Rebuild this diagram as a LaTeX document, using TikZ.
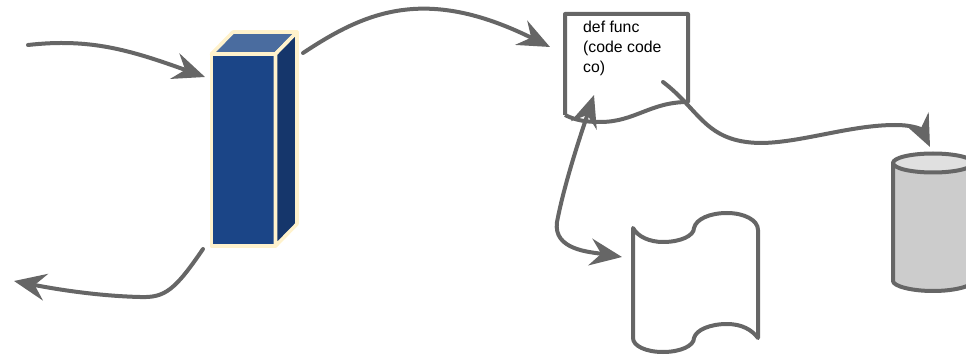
\documentclass[tikz,border=0pt]{standalone}
\usepackage{fontspec}
\setmainfont{Liberation Sans}
\usetikzlibrary{arrows.meta}
\definecolor{linegray}{HTML}{666666}
\definecolor{boxblue}{HTML}{1B4587}
\definecolor{boxtop}{HTML}{4A6C9F}
\definecolor{boxside}{HTML}{15366B}
\definecolor{boxedge}{HTML}{FFF2CC}
\definecolor{drumgray}{HTML}{CCCCCC}
\definecolor{drumtop}{HTML}{E0E0E0}
\tikzset{
  flow/.style={draw=linegray,line width=4pt,line cap=round},
  headflow/.style={flow,-{Stealth[length=32pt,width=27pt,inset=11pt]}},
  bothflow/.style={flow,{Stealth[length=32pt,width=27pt,inset=11pt]}-{Stealth[length=32pt,width=27pt,inset=11pt]}},
  outline/.style={draw=linegray,line width=4pt,line join=round},
  face/.style={draw=boxedge,line width=3.6pt,line join=round},
}
\begin{document}
\begin{tikzpicture}[x=1pt,y=-1pt]
\useasboundingbox (0,0) rectangle (966,355);
% tower
\draw[face,fill=boxblue] (211.5,54) rectangle (275.5,246);
\draw[face,fill=boxtop] (211.5,54) -- (233,32) -- (297,32) -- (275.5,54) -- cycle;
\draw[face,fill=boxside] (275.5,54) -- (297,32) -- (297,224) -- (275.5,246) -- cycle;
% page with code
\draw[outline,fill=white] (565,115) -- (565,14) -- (688,14) -- (688,102)
  .. controls (650,102) and (635,122) .. (600,122)
  .. controls (585,122) and (575,120) .. (565,115);
\node[anchor=north west,inner sep=0pt,align=left,font=\fontsize{15.8}{20}\selectfont] (functext) at (583,21) {def func\\(code code\\co)};
% paper strip
\draw[outline] (633,228) .. controls (638,237) and (650,242) .. (663,242)
  .. controls (680,242) and (694,236) .. (694,228)
  .. controls (696,219) and (710,213) .. (727,213)
  .. controls (744,213) and (758,220) .. (758,230)
  -- (758,338) .. controls (752,330) and (742,324) .. (727,324)
  .. controls (710,324) and (696,330) .. (694,338)
  .. controls (694,346) and (680,352) .. (663,352)
  .. controls (646,352) and (633,346) .. (633,338) -- cycle;
% drum
\begin{scope}
\clip (0,0) rectangle (966,355);
\draw[outline,fill=drumgray] (893,163) -- (893,281)
  .. controls (893,286) and (911,291) .. (933,291)
  .. controls (955,291) and (973,286) .. (973,281) -- (973,163) -- cycle;
\draw[outline,fill=drumtop] (933,163) ellipse [x radius=40,y radius=9.5];
\end{scope}
% connector ends
\coordinate (inleft) at (28,45);
\coordinate (intower) at (205,77);
\coordinate (towerout) at (303,53);
\coordinate (pageleft) at (550,47);
\coordinate (towerbelow) at (203,249);
\coordinate (outleft) at (14,281);
\coordinate (pageinner) at (594,95);
\coordinate (stripleft) at (622,257);
\coordinate (pagefoot) at (663,82);
\coordinate (drumtip) at (930,147);
\draw[headflow] (inleft) .. controls (90,38) and (130,50) .. (intower);
\draw[headflow] (towerout) .. controls (365,12) and (425,-15) .. (pageleft);
\draw[headflow] (towerbelow) .. controls (175,290) and (165,298) .. (140,297)
  .. controls (100,296) and (60,290) .. (outleft);
\draw[bothflow] (pageinner) .. controls (584,125) and (565,180) .. (557,222)
  .. controls (553,250) and (590,252) .. (stripleft);
\draw[headflow] (pagefoot) .. controls (700,110) and (705,142) .. (760,143)
  .. controls (800,143) and (850,125) .. (895,125)
  .. controls (915,125) and (922,130) .. (drumtip);
\end{tikzpicture}
\end{document}
